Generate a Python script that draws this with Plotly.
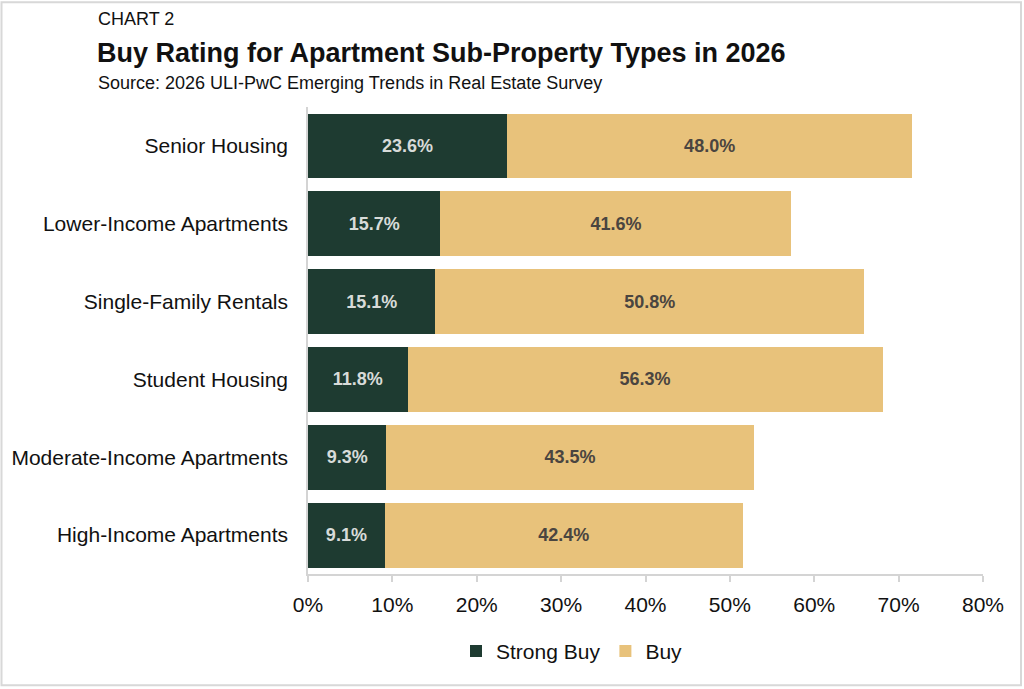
import plotly.graph_objects as go

categories = ["Senior Housing", "Lower-Income Apartments", "Single-Family Rentals",
              "Student Housing", "Moderate-Income Apartments", "High-Income Apartments"]
strong_buy = [23.6, 15.7, 15.1, 11.8, 9.3, 9.1]
buy = [48.0, 41.6, 50.8, 56.3, 43.5, 42.4]
tick_vals = [0, 10, 20, 30, 40, 50, 60, 70, 80]
tick_text = ["0%", "10%", "20%", "30%", "40%", "50%", "60%", "70%", "80%"]

W, H = 1024, 689
L, R, T, B = 308, 41, 106.5, 114.5
pw, ph = W - L - R, H - T - B

def px(x):
    return (x - L) / pw

def py(y):
    return (H - B - y) / ph

FONT = "Helvetica Neue, Liberation Sans, Arial, sans-serif"
GREEN = "#1e3b31"
TAN = "#e8c27b"

fig = go.Figure()
fig.add_trace(go.Bar(
    y=categories, x=strong_buy, name="Strong Buy", orientation="h",
    marker=dict(color=GREEN, line=dict(width=0)),
    texttemplate="%{x:.1f}%", textposition="inside", insidetextanchor="middle",
    textfont=dict(family="Liberation Sans Narrow, Arial Narrow, Liberation Sans, Arial", size=18, color="#d8dbd9", weight="bold"),
    constraintext="none", hoverinfo="skip"))
fig.add_trace(go.Bar(
    y=categories, x=buy, name="Buy", orientation="h",
    marker=dict(color=TAN, line=dict(width=0)),
    texttemplate="%{x:.1f}%", textposition="inside", insidetextanchor="middle",
    textfont=dict(family="Liberation Sans Narrow, Arial Narrow, Liberation Sans, Arial", size=18, color="#4a4540", weight="bold"),
    constraintext="none", hoverinfo="skip"))

fig.update_layout(
    width=W, height=H, barmode="stack", bargap=0.167,
    margin=dict(l=L, r=R, t=T, b=B, pad=0),
    paper_bgcolor="white", plot_bgcolor="white",
    font=dict(family=FONT, color="#111111"),
    showlegend=True,
    legend=dict(orientation="h", x=px(572), xanchor="center", y=py(652), yanchor="middle",
                font=dict(size=21, family=FONT, color="#111111"), traceorder="normal",
                itemwidth=30, itemsizing="constant"),
    xaxis=dict(range=[0, 80], tickvals=tick_vals, ticktext=tick_text, showgrid=False,
               zeroline=False, showline=True, linecolor="#d4d4d4", linewidth=1.5,
               ticks="outside", ticklen=6, tickcolor="#d4d4d4", tickwidth=1.5,
               ticklabelstandoff=5,
               tickfont=dict(size=21, family=FONT, color="#111111"), fixedrange=True),
    yaxis=dict(autorange="reversed", showgrid=False, showline=True, linecolor="#d4d4d4",
               linewidth=1.5, ticks="", ticklabelstandoff=14,
               tickfont=dict(size=21, family=FONT, color="#111111"), fixedrange=True),
)

fig.add_shape(type="rect", xref="paper", yref="paper",
              x0=px(1.5), x1=px(1021), y0=py(686), y1=py(1.5),
              line=dict(color="#d8d8d8", width=2), fillcolor="rgba(0,0,0,0)", layer="below")

fig.add_annotation(text="CHART 2", xref="paper", yref="paper", x=px(96), y=py(18),
                   xanchor="left", yanchor="middle", showarrow=False,
                   font=dict(size=18, family=FONT, color="#111111"))
fig.add_annotation(text="<b>Buy Rating for Apartment Sub-Property Types in 2026</b>", xref="paper", yref="paper",
                   x=px(95), y=py(52), xanchor="left", yanchor="middle", showarrow=False,
                   font=dict(size=27, family=FONT, color="#111111"))
fig.add_annotation(text="Source: 2026 ULI-PwC Emerging Trends in Real Estate Survey", xref="paper", yref="paper",
                   x=px(96), y=py(82), xanchor="left", yanchor="middle", showarrow=False,
                   font=dict(size=18, family=FONT, color="#111111"))

fig.write_html("out.html", config={"displayModeBar": False},
               post_script="document.body.style.margin='0px';document.body.style.overflow='hidden';")
